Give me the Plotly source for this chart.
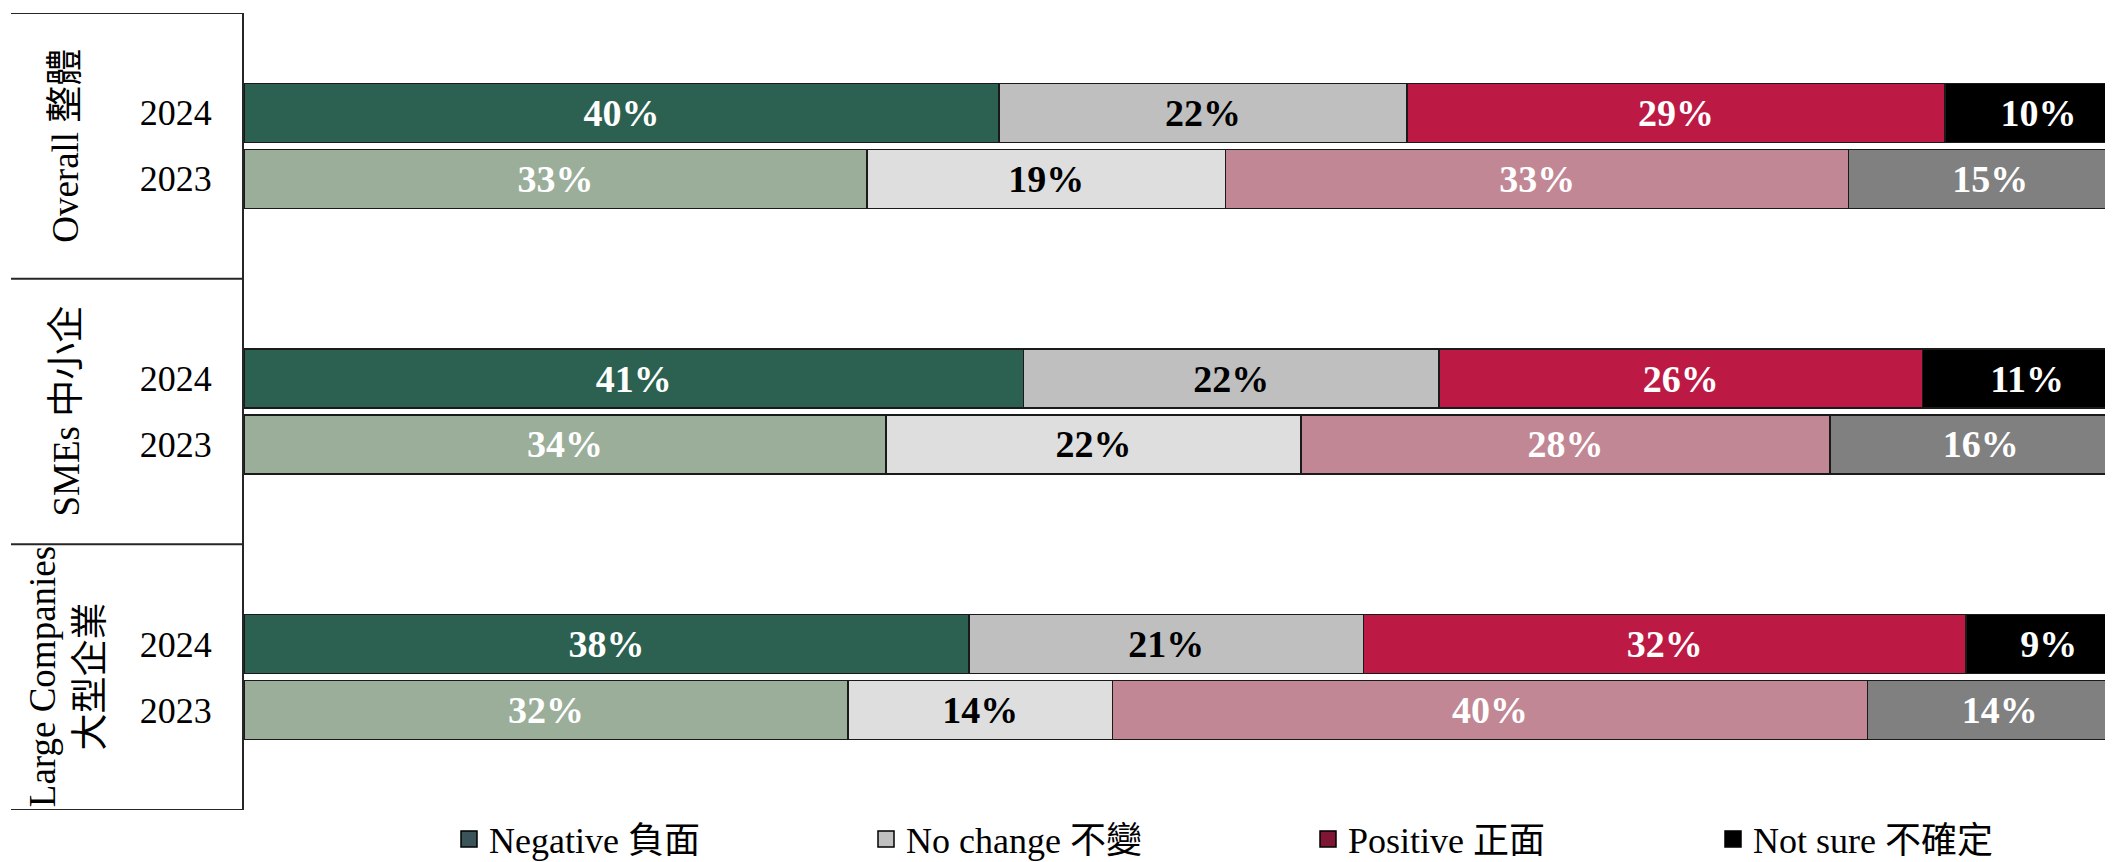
import plotly.graph_objects as go

# ---------------- data ----------------
groups = ["Overall 整體", "SMEs 中小企", "Large Companies<br>大型企業"]
years = ["2024", "2023"]
responses = ["Negative 負面", "No change 不變", "Positive 正面", "Not sure 不確定"]

negative_2024 = [40.0, 41.3, 38.4]
no_change_2024 = [21.6, 22.0, 20.9]
positive_2024 = [28.5, 25.6, 31.9]
not_sure_2024 = [9.9, 11.1, 8.8]

negative_2023 = [33, 34, 32]
no_change_2023 = [19, 22, 14]
positive_2023 = [33, 28, 40]
not_sure_2023 = [15, 16, 14]

negative_2024_labels = ["40%", "41%", "38%"]
no_change_2024_labels = ["22%", "22%", "21%"]
positive_2024_labels = ["29%", "26%", "32%"]
not_sure_2024_labels = ["10%", "11%", "9%"]

negative_2023_labels = ["33%", "34%", "32%"]
no_change_2023_labels = ["19%", "22%", "14%"]
positive_2023_labels = ["33%", "28%", "40%"]
not_sure_2023_labels = ["15%", "16%", "14%"]

# ---------------- styles ----------------
colors_2024 = ["#2C6151", "#BFBFBF", "#BC1A45", "#000000"]
colors_2023 = ["#9AAE9A", "#DEDEDE", "#C28794", "#808080"]
text_colors = ["white", "black", "white", "white"]
legend_colors = ["#3A5459", "#C0C0C0", "#7F1734", "#000000"]

FONT = "Liberation Serif, 'Noto Sans CJK TC', serif"
GROUP_SPAN = 3.0
BAR_OFFSET = 0.372
BAR_WIDTH = 0.666

# page body margin offset (html body has 8px default margin)
PAGE = 8
W, H = 2113 - PAGE, 862 - PAGE
plot_left, plot_right, plot_top, plot_bottom = 244 - PAGE, 2113 - PAGE, 13 - PAGE, 810 - PAGE
plot_w = plot_right - plot_left
plot_h = plot_bottom - plot_top

values = {
    "2024": [negative_2024, no_change_2024, positive_2024, not_sure_2024],
    "2023": [negative_2023, no_change_2023, positive_2023, not_sure_2023],
}
labels = {
    "2024": [negative_2024_labels, no_change_2024_labels, positive_2024_labels, not_sure_2024_labels],
    "2023": [negative_2023_labels, no_change_2023_labels, positive_2023_labels, not_sure_2023_labels],
}
year_colors = {"2024": colors_2024, "2023": colors_2023}


def bar_pos(g, k):
    return g * GROUP_SPAN + GROUP_SPAN / 2 + (k - 0.5) * 2 * BAR_OFFSET


fig = go.Figure()

for k, yr in enumerate(years):
    ypos = [bar_pos(g, k) for g in range(len(groups))]
    for r in range(len(responses)):
        fig.add_trace(go.Bar(
            orientation="h",
            y=ypos,
            x=values[yr][r],
            width=BAR_WIDTH,
            text=labels[yr][r],
            texttemplate="%{text}",
            textposition="inside",
            insidetextanchor="middle",
            textangle=0,
            textfont=dict(family=FONT, size=38, color=text_colors[r], weight="bold"),
            marker=dict(color=year_colors[yr][r], line=dict(color="#1a1a1a", width=1.5)),
            showlegend=False,
            hoverinfo="skip",
        ))

# legend entries (one legend per item to place them like the original)
legend_x_px = [449 - PAGE, 866 - PAGE, 1308 - PAGE, 1713 - PAGE]
legend_names = ["legend", "legend2", "legend3", "legend4"]
for r, name in enumerate(responses):
    fig.add_trace(go.Scatter(
        x=[None], y=[None], mode="markers", name=name,
        marker=dict(symbol="square", size=16, color=legend_colors[r],
                    line=dict(color="black", width=1.5)),
        legend=legend_names[r], showlegend=True,
    ))

legend_layout = {}
for r, ln in enumerate(legend_names):
    legend_layout[ln] = dict(
        x=(legend_x_px[r] - plot_left) / plot_w,
        y=(plot_bottom - (839 - PAGE)) / plot_h,
        xanchor="left", yanchor="middle",
        orientation="h",
        font=dict(family=FONT, size=36, color="black"),
        bgcolor="rgba(0,0,0,0)",
        itemsizing="trace",
    )

# group separators and group labels
shapes = []
for g in range(len(groups) + 1):
    shapes.append(dict(
        type="line", xref="paper", yref="y",
        x0=(11 - PAGE - plot_left) / plot_w, x1=0,
        y0=g * GROUP_SPAN, y1=g * GROUP_SPAN,
        line=dict(color="#262626", width=2),
    ))

annotations = []
for g, name in enumerate(groups):
    annotations.append(dict(
        xref="paper", yref="y",
        x=(66 - PAGE - plot_left) / plot_w, y=g * GROUP_SPAN + GROUP_SPAN / 2,
        text=name, textangle=-90, showarrow=False,
        xanchor="center", yanchor="middle",
        font=dict(family=FONT, size=37, color="black"),
    ))

tickvals = [bar_pos(g, k) for g in range(len(groups)) for k in range(len(years))]
ticktext = [yr for g in range(len(groups)) for yr in years]

fig.update_layout(
    width=W, height=H,
    margin=dict(l=plot_left, r=W - plot_right, t=plot_top, b=H - plot_bottom,
                autoexpand=False),
    barmode="stack",
    paper_bgcolor="white", plot_bgcolor="white",
    font=dict(family=FONT, size=36, color="black"),
    shapes=shapes,
    annotations=annotations,
    uniformtext=dict(minsize=38, mode="show"),
    **legend_layout,
)
fig.update_xaxes(range=[0, 99], showticklabels=False, showgrid=False,
                 zeroline=False, showline=False, fixedrange=True)
fig.update_yaxes(range=[len(groups) * GROUP_SPAN, 0], tickvals=tickvals, ticktext=ticktext,
                 ticks="", showgrid=False, zeroline=False, showline=True,
                 linecolor="#262626", linewidth=2, ticklabelstandoff=23,
                 automargin=False,
                 tickfont=dict(family=FONT, size=36, color="black"))

fig.write_html("out.html")
